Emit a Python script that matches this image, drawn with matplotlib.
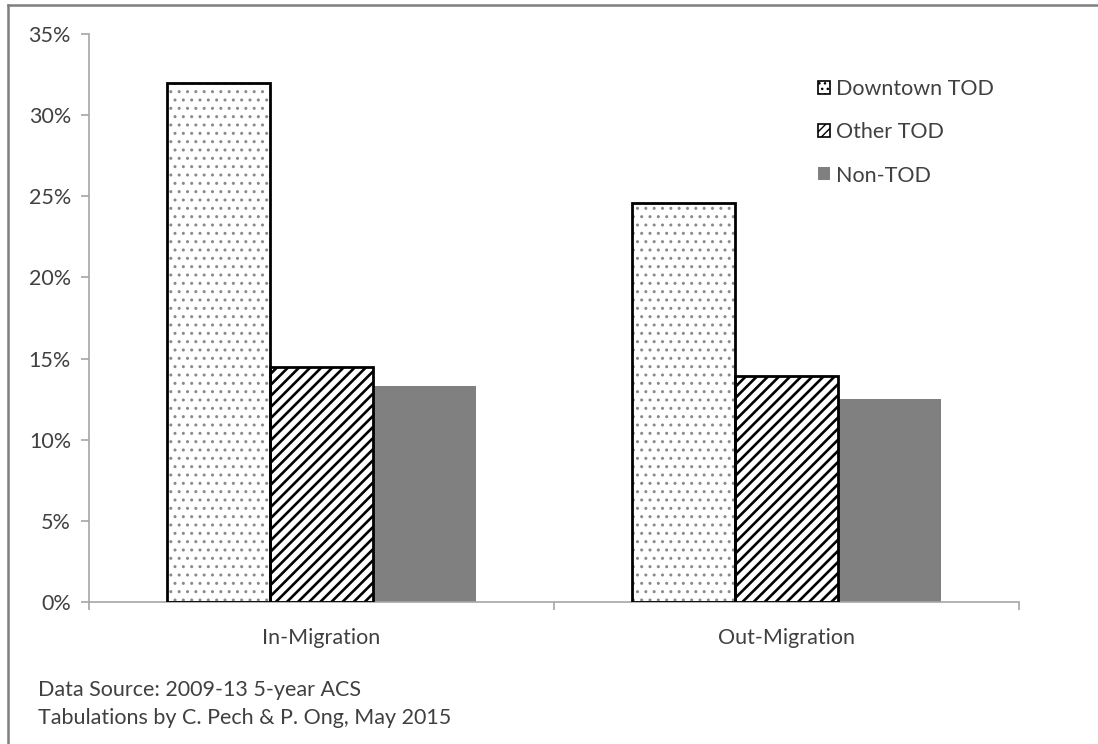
import numpy as np
import matplotlib
matplotlib.use('Agg')
import matplotlib.pyplot as plt
from matplotlib.patches import Patch
from matplotlib.lines import Line2D
from matplotlib.ticker import PercentFormatter

# data
categories = ['In-Migration', 'Out-Migration']
series = ['Downtown TOD', 'Other TOD', 'Non-TOD']
downtown_tod = [32.0, 24.6]
other_tod = [14.5, 13.9]
non_tod = [13.3, 12.5]
y_ticks = [0, 5, 10, 15, 20, 25, 30, 35]
source_lines = ['Data Source: 2009-13 5-year ACS',
                'Tabulations by C. Pech & P. Ong, May 2015']

plt.rcParams['font.family'] = ['Lato', 'DejaVu Sans']
text_color = '#404040'
axis_color = '#a6a6a6'
fs = 15.5

W, H = 1098, 744
fig = plt.figure(figsize=(W / 100, H / 100), dpi=100)
ax = fig.add_axes([89 / W, 1 - 602 / H, (1019 - 89) / W, (602 - 34) / H])

x = np.arange(len(categories))
width = 0.222
offsets = [-width, 0, width]

# Downtown TOD: gray dots, then black outline on top
plt.rcParams['hatch.linewidth'] = 1.0
ax.bar(x + offsets[0], downtown_tod, width, facecolor='white', edgecolor='#8a8a8a',
       hatch='..', linewidth=0, zorder=2)
ax.bar(x + offsets[0], downtown_tod, width, facecolor='none', edgecolor='black',
       linewidth=2, zorder=3)

# Other TOD: diagonal stripes
plt.rcParams['hatch.linewidth'] = 1.9
ax.bar(x + offsets[1], other_tod, width, facecolor='white', edgecolor='black',
       hatch='///', linewidth=0, zorder=2)
ax.bar(x + offsets[1], other_tod, width, facecolor='none', edgecolor='black',
       linewidth=2, zorder=3)

# Non-TOD: solid gray
ax.bar(x + offsets[2], non_tod, width, color='#808080', linewidth=0, zorder=2)

ax.set_xlim(-0.5, len(categories) - 0.5)
ax.set_ylim(0, 35)
ax.set_yticks(y_ticks)
ax.yaxis.set_major_formatter(PercentFormatter(decimals=0))
ax.set_xticks(x)
ax.set_xticklabels(categories)
ax.set_xticks([-0.5, 0.5, 1.5], minor=True)

for side in ['top', 'right']:
    ax.spines[side].set_visible(False)
for side in ['left', 'bottom']:
    ax.spines[side].set_color(axis_color)
    ax.spines[side].set_linewidth(1.2)

ax.tick_params(axis='y', length=6, width=1.2, color=axis_color, labelcolor=text_color,
               labelsize=fs, pad=7, direction='out')
ax.tick_params(axis='x', which='major', length=0, labelsize=fs, labelcolor=text_color, pad=19)
ax.tick_params(axis='x', which='minor', length=6, width=1.2, color=axis_color, direction='out')

# legend
plt.rcParams['hatch.linewidth'] = 1.0
handles = [Patch(facecolor='white', edgecolor='black', hatch='...', linewidth=1.2),
           Patch(facecolor='white', edgecolor='black', hatch='////', linewidth=1.2),
           Patch(facecolor='#808080', edgecolor='#808080', linewidth=0)]
leg = ax.legend(handles, series, loc='upper left', bbox_to_anchor=(818 / W, 1 - 79 / H),
                bbox_transform=fig.transFigure, frameon=False, fontsize=fs,
                handlelength=0.55, handleheight=0.55, handletextpad=0.3, labelspacing=1.08,
                borderaxespad=0, borderpad=0)
for t in leg.get_texts():
    t.set_color(text_color)

# footnote
fig.text(38 / W, 1 - 690 / H, source_lines[0], fontsize=fs, color=text_color, va='center')
fig.text(38 / W, 1 - 718 / H, source_lines[1], fontsize=fs, color=text_color, va='center')

# outer frame (only top and left visible in the crop)
fig.add_artist(Line2D([8 / W, 1], [1 - 5 / H, 1 - 5 / H], transform=fig.transFigure,
                      color='#7f7f7f', linewidth=1.8))
fig.add_artist(Line2D([8 / W, 8 / W], [1 - 5 / H, 0], transform=fig.transFigure,
                      color='#7f7f7f', linewidth=1.8))

fig.savefig('out.png', dpi=100)
